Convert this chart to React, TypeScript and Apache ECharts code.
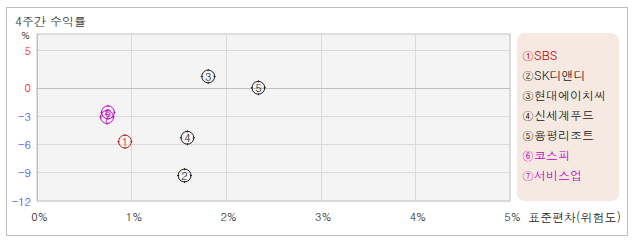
import React, { useEffect, useRef } from "react";
import * as echarts from "echarts";

const companies = ["①SBS", "②SK디앤디", "③현대에이치씨", "④신세계푸드", "⑤용평리조트", "⑥코스피", "⑦서비스업"];
const markerNumbers = ["1", "2", "3", "4", "5", "6", "7"];
const stdDev = [0.93, 1.56, 1.81, 1.59, 2.34, 0.75, 0.74];
const return4w = [-5.7, -9.3, 1.2, -5.3, 0.0, -2.6, -3.1];
const markerColors = ["#b22222", "#222222", "#222222", "#222222", "#222222", "#c000c0", "#c000c0"];
const legendColors = ["#c00000", "#222222", "#222222", "#222222", "#222222", "#c000c0", "#c000c0"];
const yTickValues = [-12, -9, -6, -3, 0, 4];
const yTickLabels = ["-12", "-9", "-6", "-3", "0", "5"];
const xTickValues = [0, 1, 2, 3, 4, 5];

const FONT = "Dotum, Gulim, 'Noto Sans CJK KR', sans-serif";
const MARKER =
  "path://M7,0 L7,2 M7,12 L7,14 M0,7 L2,7 M12,7 L14,7 M13,7 A6,6 0 1,1 1,7 A6,6 0 1,1 13,7 Z";

export default function App() {
  const ref = useRef<HTMLDivElement>(null);
  useEffect(() => {
    if (!ref.current) return;
    const chart = echarts.init(ref.current, undefined, { renderer: "svg" });
    const series = companies.map((name, i) => ({
      type: "scatter",
      name,
      data: [[stdDev[i], return4w[i]]],
      symbol: MARKER,
      symbolSize: 15,
      z: 3 + (companies.length - i),
      itemStyle: { color: "rgba(0,0,0,0)", borderColor: markerColors[i], borderWidth: 1, opacity: 1 },
      label: {
        show: true,
        position: "inside",
        formatter: () => markerNumbers[i],
        color: markerColors[i],
        fontSize: 11,
        fontFamily: FONT,
      },
      emphasis: { disabled: true },
    }));
    chart.setOption({
      animation: false,
      backgroundColor: "#ffffff",
      title: {
        text: "4주간 수익률",
        left: 15,
        top: 14,
        padding: 0,
        textStyle: { fontSize: 12, fontWeight: "normal", color: "#333333", fontFamily: FONT, lineHeight: 13 },
      },
      graphic: [
        {
          type: "rect",
          shape: { x: 6.5, y: 7.5, width: 621, height: 228 },
          style: { fill: "none", stroke: "#bdbdbd", lineWidth: 1 },
          z: 0,
        },
        {
          type: "rect",
          shape: { x: 517, y: 33, width: 102, height: 168, r: 8 },
          style: { fill: "#f5e9e2" },
          z: 0,
        },
        {
          type: "text",
          left: 21,
          top: 30,
          style: { text: "%", fontSize: 10, fill: "#222222", fontFamily: FONT },
        },
        {
          type: "text",
          left: 528,
          top: 210,
          style: { text: "표준편차(위험도)", fontSize: 12, fill: "#222222", fontFamily: FONT },
        },
      ],
      legend: {
        orient: "vertical",
        left: 517,
        top: 47,
        padding: 0,
        itemWidth: 0,
        itemHeight: 14,
        itemGap: 7,
        icon: "none",
        selectedMode: false,
        data: companies.map((name, i) => ({
          name,
          icon: "none",
          textStyle: { color: legendColors[i], fontSize: 12, fontFamily: FONT },
        })),
      },
      grid: {
        left: 37,
        right: 128,
        top: 34,
        bottom: 41,
        containLabel: false,
        outerBoundsMode: "none",
        show: true,
        backgroundColor: "#f4f4f4",
        borderColor: "#c0c0c0",
        borderWidth: 1,
      },
      xAxis: {
        type: "value",
        min: 0,
        max: 5,
        interval: 1,
        axisLine: { show: true, lineStyle: { color: "#c0c0c0" } },
        axisTick: { show: false, customValues: xTickValues },
        axisLabel: {
          customValues: xTickValues,
          formatter: (v: number) => `${v}%`,
          fontSize: 11,
          color: "#222222",
          fontFamily: FONT,
          margin: 10,
          padding: [0, 0, 0, 5],
        },
        splitLine: { show: true, lineStyle: { color: "#dadada" } },
      },
      yAxis: {
        type: "value",
        min: -12,
        max: 5.7,
        axisLine: { show: true, lineStyle: { color: "#c0c0c0" } },
        axisTick: { show: false, customValues: yTickValues },
        axisLabel: {
          customValues: yTickValues,
          formatter: (v: number) => yTickLabels[yTickValues.indexOf(v)] ?? "",
          fontSize: 11,
          fontFamily: FONT,
          margin: 6,
          color: (v: any) => (Number(v) >= 0 ? "#ff0000" : "#3b3bff"),
        },
        splitLine: { show: true, lineStyle: { color: "#dadada" } },
      },
      series,
    });
    return () => chart.dispose();
  }, []);
  return <div ref={ref} style={{ position: "absolute", left: 0, top: 0, width: 638, height: 242 }} />;
}
